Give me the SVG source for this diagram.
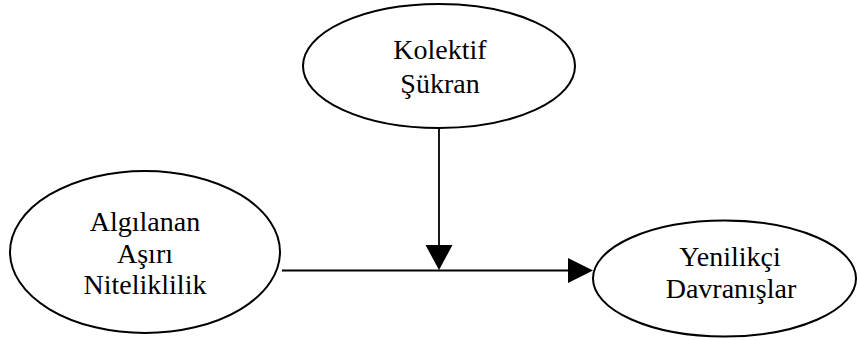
<svg xmlns="http://www.w3.org/2000/svg" width="857" height="340" viewBox="0 0 857 340">
<style>
.node ellipse{fill:#fff;stroke:#000;stroke-width:2}
.node text{font-family:"Liberation Serif","Times New Roman",serif;font-size:28px;fill:#000;text-anchor:middle}
.edge{stroke:#000;stroke-width:1.8;fill:none}
.head{fill:#000;stroke:none}
</style>
<rect width="857" height="340" fill="#fff"/>
<g id="connectors">
<line class="edge" x1="439" y1="128" x2="439" y2="248"/>
<polygon class="head" points="425.5,245 452.5,245 439,270"/>
<line class="edge" x1="282" y1="270.5" x2="570" y2="270.5"/>
<polygon class="head" points="568,258 568,283 593,270.5"/>
</g>
<g id="kolektif" class="node">
<ellipse cx="439" cy="66" rx="136" ry="62"/>
<text x="440" y="59">Kolektif</text>
<text x="440" y="93">Şükran</text>
</g>
<g id="algilanan" class="node">
<ellipse cx="145" cy="252" rx="135" ry="81"/>
<text x="145" y="231">Algılanan</text>
<text x="145" y="263">Aşırı</text>
<text x="145" y="294">Niteliklilik</text>
</g>
<g id="yenilikci" class="node">
<ellipse cx="724.5" cy="278.5" rx="131.5" ry="58"/>
<text x="730" y="266">Yenilikçi</text>
<text x="731" y="298">Davranışlar</text>
</g>
</svg>
